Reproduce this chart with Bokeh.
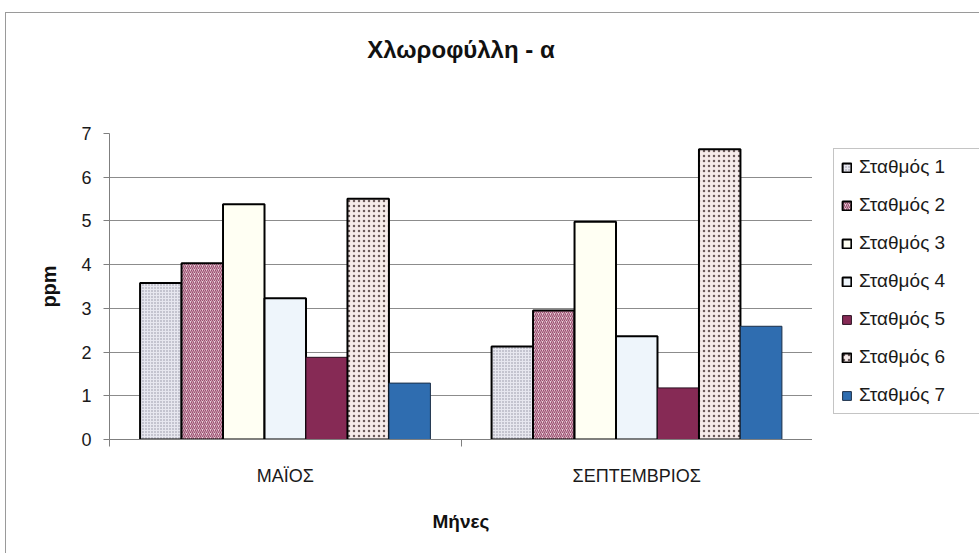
from bokeh.plotting import figure
from bokeh.layouts import row
from bokeh.models import (Range1d, LinearAxis, FixedTicker, Legend, LegendItem)
from bokeh.embed import file_html
from bokeh.resources import INLINE

# Chlorophyll-a (ppm) per station, for the two sampling months
months = ["ΜΑΪΟΣ", "ΣΕΠΤΕΜΒΡΙΟΣ"]
stations = ["Σταθμός 1", "Σταθμός 2", "Σταθμός 3", "Σταθμός 4",
            "Σταθμός 5", "Σταθμός 6", "Σταθμός 7"]
may_values = [3.58, 4.03, 5.38, 3.23, 1.88, 5.51, 1.29]
september_values = [2.13, 2.95, 4.98, 2.36, 1.18, 6.64, 2.59]
y_ticks = [0, 1, 2, 3, 4, 5, 6, 7]

FONT = "Liberation Sans"

# fill / pattern for every station series
styles = [
    dict(fill_color="#e7e7ef", hatch_pattern="dot", hatch_color="#8e8ea0", hatch_scale=3, line_color="black", line_width=2),
    dict(fill_color="#ead2dc", hatch_pattern="right_diagonal_line", hatch_color="#9a4d6e", hatch_scale=4, hatch_weight=1.2, line_color="black", line_width=2),
    dict(fill_color="#fffff3", line_color="black", line_width=2),
    dict(fill_color="#eef5fb", line_color="black", line_width=2),
    dict(fill_color="#862a55", line_color="#2a1020", line_width=1),
    dict(fill_color="#f6ebea", hatch_pattern="dot", hatch_color="#6a5a5a", hatch_scale=5, line_color="black", line_width=2),
    dict(fill_color="#2f6db0", line_color="#1c2f48", line_width=1),
]

n_months = len(months)

p = figure(x_range=Range1d(0, n_months), y_range=Range1d(0, 7),
           width=806, height=540,
           min_border_left=103, min_border_right=0,
           min_border_top=120, min_border_bottom=114,
           x_axis_location=None, y_axis_location="left",
           toolbar_location=None, output_backend="svg",
           outline_line_color=None, background_fill_color="white",
           border_fill_color="white")
p.xgrid.visible = False

# value axis
yax = p.yaxis[0]
yax.ticker = FixedTicker(ticks=y_ticks)
yax.major_tick_out = 6
yax.major_tick_in = 0
yax.minor_tick_line_color = None
yax.axis_line_color = "#7f7f7f"
yax.major_tick_line_color = "#7f7f7f"
yax.major_label_text_font = FONT
yax.major_label_text_font_size = "18px"
yax.major_label_text_color = "#1a1a1a"
yax.major_label_standoff = 12
yax.axis_label = "ppm"
yax.axis_label_text_font = FONT
yax.axis_label_text_font_size = "20px"
yax.axis_label_text_font_style = "bold"
yax.axis_label_text_color = "#111111"
yax.axis_label_standoff = 18

p.ygrid.ticker = FixedTicker(ticks=y_ticks[1:-1])
p.ygrid.grid_line_color = "#8c8c8c"
p.ygrid.grid_line_width = 1

# month axis: tick marks on the boundaries, names centred in each slot
edges = list(range(n_months + 1))
edge_axis = LinearAxis(ticker=FixedTicker(ticks=edges),
                       major_label_overrides={e: "" for e in edges},
                       major_tick_out=7, major_tick_in=0,
                       minor_tick_line_color=None, major_label_standoff=0,
                       axis_line_color="#7f7f7f", major_tick_line_color="#7f7f7f")
p.add_layout(edge_axis, "below")

centres = [m + 0.5 for m in range(n_months)]
name_axis = LinearAxis(ticker=FixedTicker(ticks=centres),
                       major_label_overrides={c: m for c, m in zip(centres, months)},
                       axis_line_color=None, major_tick_line_color=None,
                       minor_tick_line_color=None,
                       major_tick_out=0, major_tick_in=0,
                       major_label_standoff=19,
                       major_label_text_font=FONT,
                       major_label_text_font_size="18px",
                       major_label_text_color="#1a1a1a",
                       axis_label="Μήνες",
                       axis_label_text_font=FONT,
                       axis_label_text_font_size="19px",
                       axis_label_text_font_style="bold",
                       axis_label_text_color="#111111",
                       axis_label_standoff=22)
p.add_layout(name_axis, "below")

# chart title, centred over the plotting area
title_axis = LinearAxis(ticker=FixedTicker(ticks=[]),
                        axis_line_color=None, major_tick_line_color=None,
                        minor_tick_line_color=None,
                        major_tick_out=0, major_tick_in=0, major_label_standoff=0,
                        axis_label="Χλωροφύλλη - α",
                        axis_label_text_font=FONT,
                        axis_label_text_font_size="24px",
                        axis_label_text_font_style="bold",
                        axis_label_text_color="#111111",
                        axis_label_standoff=71)
p.add_layout(title_axis, "above")

# grouped bars, seven stations side by side inside each month slot
n = len(stations)
bar_w = 0.118
renderers = []
for i, s in enumerate(stations):
    off = (i - (n - 1) / 2) * bar_w
    xs = [c + off for c in centres]
    tops = [may_values[i], september_values[i]]
    renderers.append(p.vbar(x=xs, top=tops, width=bar_w, **styles[i]))

# legend panel to the right of the chart (its frame lines up with the chart's)
side = figure(width=167, height=540, x_range=Range1d(0, 1), y_range=Range1d(0, 1),
              min_border=0, x_axis_location=None, y_axis_location=None,
              toolbar_location=None, output_backend="svg",
              outline_line_color=None, background_fill_color="white",
              border_fill_color="white")
side.xgrid.visible = False
side.ygrid.visible = False
# swatch renderers only feed the legend; they sit underneath its opaque box
swatches = [side.vbar(x=[0.5], bottom=[0.3], top=[0.5], width=0.1, **styles[i])
            for i in range(n)]

legend = Legend(items=[LegendItem(label=s, renderers=[r]) for s, r in zip(stations, swatches)],
                location=(21, 25), orientation="vertical",
                glyph_width=11, glyph_height=11, label_height=21, label_width=128,
                spacing=16, padding=7, margin=0, label_standoff=7,
                label_text_font=FONT, label_text_font_size="19px",
                label_text_color="#1a1a1a",
                border_line_color="#8a8a8a", border_line_width=1,
                background_fill_color="white", background_fill_alpha=1)
side.add_layout(legend, "center")

page = row(p, side, spacing=0)
page.styles = {"margin-left": "5px", "margin-top": "12px",
               "border-left": "1px solid #9a9a9a", "border-top": "1px solid #9a9a9a"}

open("out.html", "w").write(file_html(page, INLINE))
